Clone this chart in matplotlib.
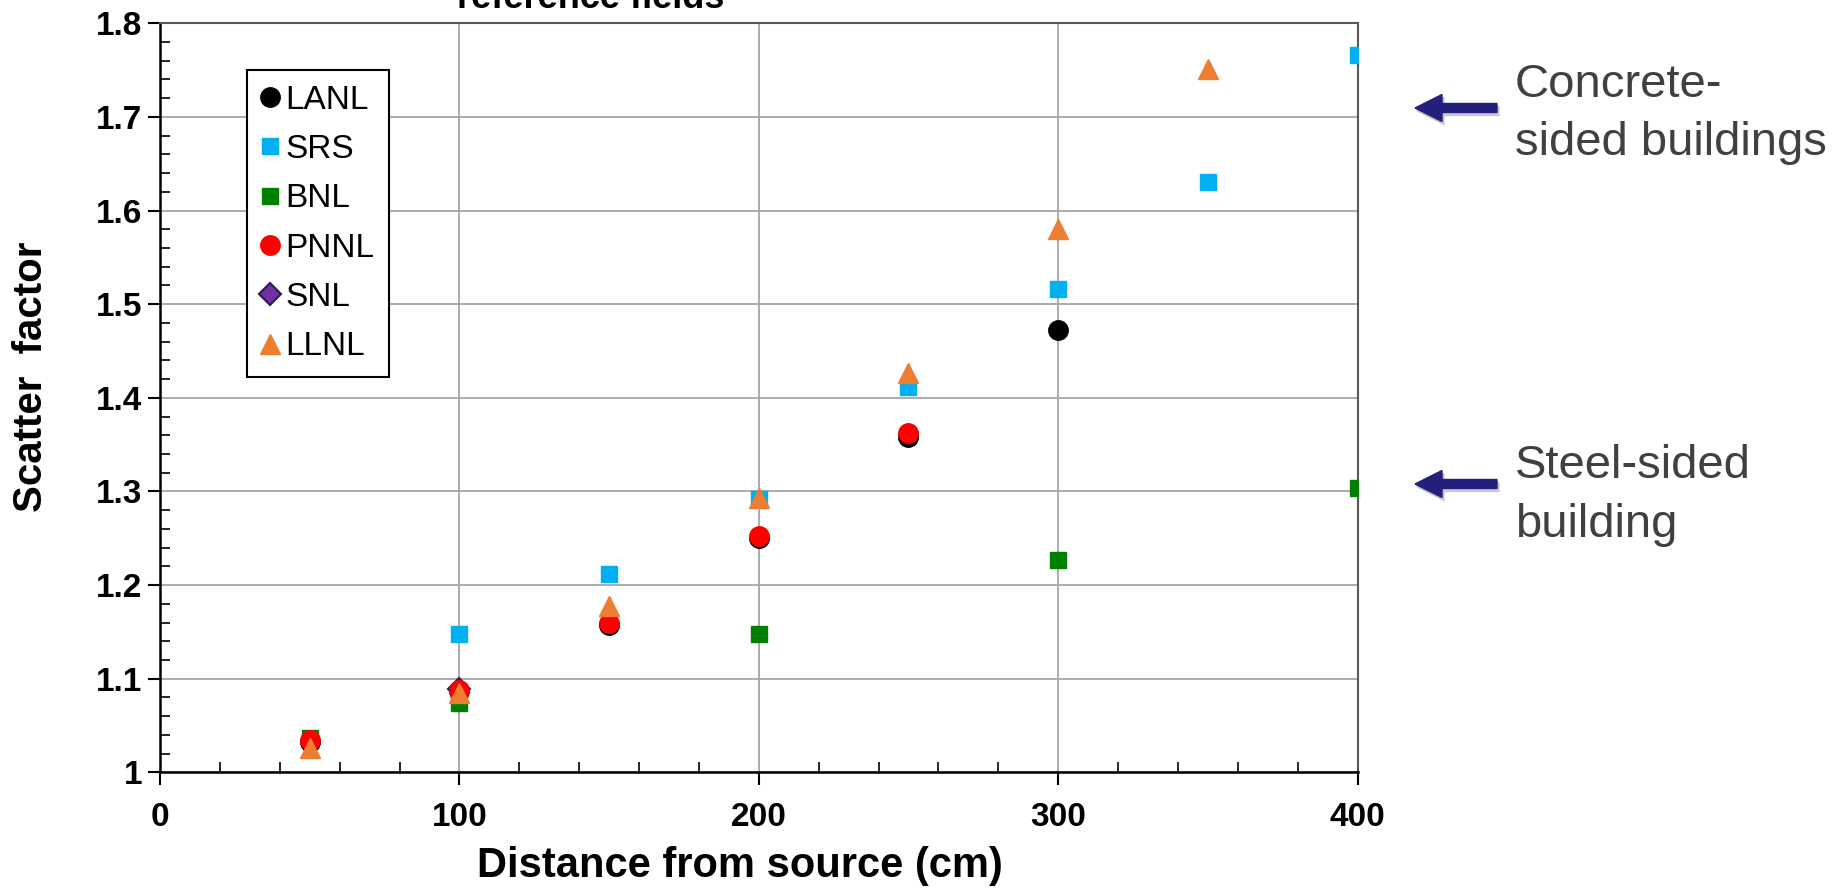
import matplotlib
matplotlib.use('Agg')
import matplotlib.pyplot as plt
from matplotlib.ticker import MultipleLocator, FuncFormatter
from matplotlib.patches import FancyArrow
from matplotlib.transforms import IdentityTransform

plt.rcParams['font.family'] = ['Liberation Sans', 'DejaVu Sans']

# values (distance in cm, scatter factor)
lanl_x = [50, 100, 150, 200, 250, 300]
lanl_y = [1.032, 1.087, 1.157, 1.250, 1.358, 1.472]
srs_x = [100, 150, 200, 250, 300, 350, 400]
srs_y = [1.148, 1.212, 1.292, 1.412, 1.516, 1.630, 1.766]
bnl_x = [50, 100, 200, 300, 400]
bnl_y = [1.037, 1.074, 1.148, 1.227, 1.304]
pnnl_x = [50, 100, 150, 200, 250]
pnnl_y = [1.035, 1.088, 1.160, 1.252, 1.362]
snl_x = [100]
snl_y = [1.089]
llnl_x = [50, 100, 150, 200, 250, 300, 350]
llnl_y = [1.026, 1.085, 1.178, 1.293, 1.426, 1.580, 1.751]

xticks = [0, 100, 200, 300, 400]
yticks = [1.0, 1.1, 1.2, 1.3, 1.4, 1.5, 1.6, 1.7, 1.8]

W, H = 1835, 894
fig = plt.figure(figsize=(W / 100, H / 100), dpi=100)
ax = fig.add_axes([0.0872, 0.136, 0.6526, 0.838])

ax.plot(lanl_x, lanl_y, 'o', color='black', ms=14, mec='black', label='LANL', zorder=3)
ax.plot(srs_x, srs_y, 's', color='#00B0F0', ms=12, mec='#00B0F0', label='SRS', zorder=3.1)
ax.plot(bnl_x, bnl_y, 's', color='#008000', ms=12, mec='#008000', label='BNL', zorder=3.2)
ax.plot(pnnl_x, pnnl_y, 'o', color='#FF0000', ms=14, mec='#FF0000', label='PNNL', zorder=3.3)
ax.plot(snl_x, snl_y, 'D', color='#7030A0', ms=11, mec='#2A1A55', mew=1.5, label='SNL', zorder=2.5)
ax.plot(llnl_x, llnl_y, '^', color='#ED7D31', ms=14, mec='#ED7D31', label='LLNL', zorder=3.5)

ax.set_xlim(0, 400)
ax.set_ylim(1.0, 1.8)
ax.set_xticks(xticks)
ax.set_yticks(yticks)
ax.xaxis.set_minor_locator(MultipleLocator(20))
ax.yaxis.set_minor_locator(MultipleLocator(0.02))
ax.yaxis.set_major_formatter(FuncFormatter(lambda v, p: f'{v:g}'))

ax.grid(True, which='major', color='#A6A6A6', lw=1.3)
ax.set_axisbelow(True)

ax.tick_params(which='major', direction='out', length=9, width=1.5, labelsize=24)
ax.tick_params(which='minor', direction='in', length=7, width=1.2)
ax.tick_params(axis='x', which='major', pad=12)
ax.tick_params(axis='y', which='major', pad=4)
for lab in ax.get_xticklabels() + ax.get_yticklabels():
    lab.set_fontweight('bold')

for s in ['left', 'bottom']:
    ax.spines[s].set_color('black')
    ax.spines[s].set_linewidth(1.8)
for s in ['top', 'right']:
    ax.spines[s].set_color('#595959')
    ax.spines[s].set_linewidth(1.5)

ax.set_xlabel('Distance from source (cm)', fontsize=30, fontweight='bold')
ax.set_ylabel('Scatter  factor', fontsize=29, fontweight='bold')
ax.xaxis.set_label_coords(0.484, -0.098)
ax.yaxis.set_label_coords(-0.092, 0.528)

leg = ax.legend(loc='upper left', bbox_to_anchor=(0.0727, 0.938), borderaxespad=0,
                fontsize=24, handlelength=0.5, handletextpad=0.2, labelspacing=0.55,
                borderpad=0.45, markerscale=1.0, fancybox=False, framealpha=1)
leg.get_frame().set_edgecolor('black')
leg.get_frame().set_linewidth(1.5)

# title cut off by the top edge
fig.text(591 / W, 1 - 8 / H, 'reference fields', ha='center', va='baseline',
         fontsize=26, fontweight='bold')

# notes on the right
note_x = 1515 / W
for txt, ypix in [('Concrete-', 97), ('sided buildings', 155),
                  ('Steel-sided', 478), ('building', 537)]:
    fig.text(note_x, 1 - ypix / H, txt, fontsize=34, color='#404040', va='baseline')

for ypix in [108, 484]:
    y0 = H - ypix
    shadow = FancyArrow(1499, y0 - 3, -82, 0, width=9, head_width=27, head_length=27,
                        length_includes_head=True, color='#B0B0B0', alpha=0.6,
                        transform=IdentityTransform())
    arr = FancyArrow(1497, y0, -82, 0, width=9, head_width=27, head_length=27,
                     length_includes_head=True, color='#231F7C',
                     transform=IdentityTransform())
    fig.add_artist(shadow)
    fig.add_artist(arr)

fig.savefig('out.png', dpi=100, facecolor='white')
